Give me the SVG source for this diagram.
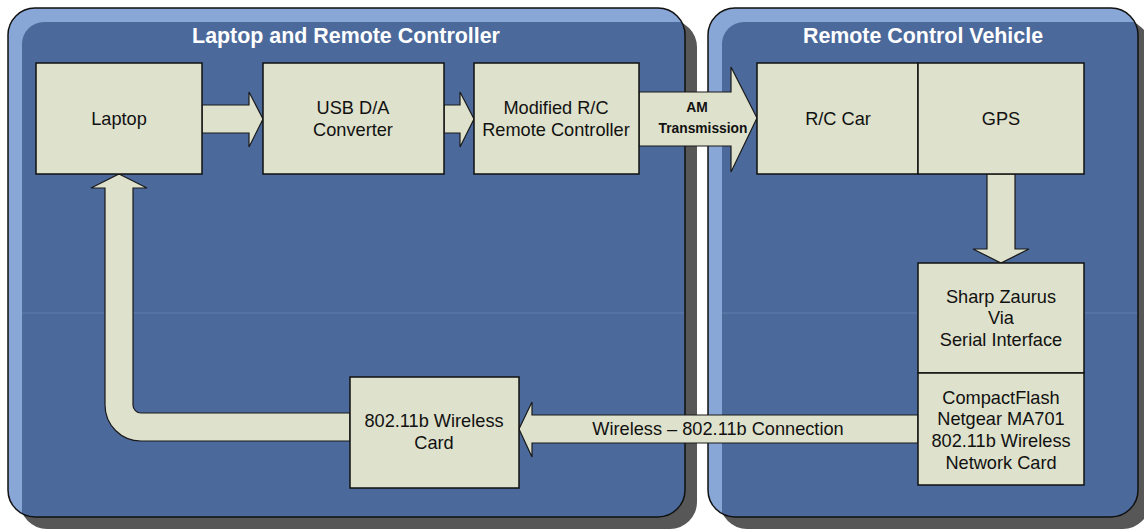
<svg xmlns="http://www.w3.org/2000/svg" width="1144" height="531" viewBox="0 0 1144 531">
  <style>
    .shadow { fill: #575757; }
    .outer { fill: #88a7d7; }
    .inner { fill: #4b6a9b; }
    .edge { fill: none; stroke: #111; stroke-width: 1.5; }
    .box { fill: #dee1cb; stroke: #111; stroke-width: 1.5; }
    .arrow { fill: #dee1cb; stroke: #1a1a1a; stroke-width: 1.2; stroke-linejoin: miter; }
    .title { font-family: "Liberation Sans", Arial, sans-serif; font-weight: bold; font-size: 21.4px; fill: #ffffff; text-anchor: middle; }
    .label { font-family: "Liberation Sans", Arial, sans-serif; font-size: 18.2px; fill: #111; text-anchor: middle; }
    .bold { font-family: "Liberation Sans", Arial, sans-serif; font-weight: bold; font-size: 13.8px; fill: #111; text-anchor: middle; }
  </style>
  <defs>
    <clipPath id="clipLeft"><rect x="8" y="8" width="677" height="509" rx="27" ry="27"/></clipPath>
    <clipPath id="clipRight"><rect x="708" y="8" width="430" height="509" rx="27" ry="27"/></clipPath>
  </defs>

  <rect width="1144" height="531" fill="#ffffff"/>

  <!-- Left panel: laptop side -->
  <g id="panel-laptop">
    <rect class="shadow" x="20" y="20" width="677" height="509" rx="27" ry="27"/>
    <rect class="outer" x="8" y="8" width="677" height="509" rx="27" ry="27"/>
    <rect class="inner" x="22" y="22" width="700" height="540" rx="22" ry="22" clip-path="url(#clipLeft)"/>
    <line x1="22" y1="313" x2="685" y2="313" stroke="#8aa4cc" stroke-opacity="0.35" stroke-width="1"/>
    <rect class="edge" x="8" y="8" width="677" height="509" rx="27" ry="27"/>
    <text class="title" x="346" y="43">Laptop and Remote Controller</text>
  </g>

  <!-- Right panel: vehicle side -->
  <g id="panel-vehicle">
    <rect class="shadow" x="720" y="20" width="430" height="509" rx="27" ry="27"/>
    <rect class="outer" x="708" y="8" width="430" height="509" rx="27" ry="27"/>
    <rect class="inner" x="722" y="22" width="450" height="540" rx="22" ry="22" clip-path="url(#clipRight)"/>
    <line x1="722" y1="313" x2="1138" y2="313" stroke="#8aa4cc" stroke-opacity="0.35" stroke-width="1"/>
    <rect class="edge" x="708" y="8" width="430" height="509" rx="27" ry="27"/>
    <text class="title" x="923" y="43">Remote Control Vehicle</text>
  </g>

  <!-- Connectors -->
  <g id="connectors">
    <path class="arrow" d="M202,105 L249,105 L249,92 L263,119 L249,147 L249,133 L202,133 Z"/>
    <path class="arrow" d="M444,105 L460,105 L460,92 L474,119 L460,147 L460,133 L444,133 Z"/>
    <path class="arrow" d="M639,92 L731,92 L731,67 L757,118 L731,172 L731,146 L639,146 Z"/>
    <text class="bold" x="697" y="112">AM</text>
    <text class="bold" x="703" y="133">Transmission</text>
    <path class="arrow" d="M987,174 L1015,174 L1015,249 L1029,249 L1001,263 L973,249 L987,249 Z"/>
    <path class="arrow" d="M918,415 L532,415 L532,402 L519,429 L532,457 L532,443 L918,443 Z"/>
    <text class="label" x="718" y="435">Wireless – 802.11b Connection</text>
    <path class="arrow" d="M119,174 L147,188 L133,188 L133,405 A8,8 0 0 0 141,413 L350,413 L350,441 L141,441 A36,36 0 0 1 105,405 L105,188 L91,188 Z"/>
  </g>

  <!-- Nodes -->
  <g id="laptop">
    <rect class="box" x="36" y="63" width="166" height="111"/>
    <text class="label" x="119" y="125">Laptop</text>
  </g>
  <g id="usb-da">
    <rect class="box" x="263" y="63" width="181" height="111"/>
    <text class="label" x="353" y="114">USB D/A</text>
    <text class="label" x="353" y="136">Converter</text>
  </g>
  <g id="rc-controller">
    <rect class="box" x="474" y="63" width="165" height="111"/>
    <text class="label" x="556" y="114">Modified R/C</text>
    <text class="label" x="556" y="136">Remote Controller</text>
  </g>
  <g id="rc-car">
    <rect class="box" x="757" y="63" width="161" height="111"/>
    <text class="label" x="838" y="125">R/C Car</text>
  </g>
  <g id="gps">
    <rect class="box" x="918" y="63" width="166" height="111"/>
    <text class="label" x="1001" y="125">GPS</text>
  </g>
  <g id="zaurus">
    <rect class="box" x="918" y="263" width="166" height="110"/>
    <text class="label" x="1001" y="303">Sharp Zaurus</text>
    <text class="label" x="1001" y="324">Via</text>
    <text class="label" x="1001" y="346">Serial Interface</text>
  </g>
  <g id="cf-card">
    <rect class="box" x="918" y="373" width="166" height="112"/>
    <text class="label" x="1001" y="404">CompactFlash</text>
    <text class="label" x="1001" y="425">Netgear MA701</text>
    <text class="label" x="1001" y="447">802.11b Wireless</text>
    <text class="label" x="1001" y="469">Network Card</text>
  </g>
  <g id="wireless-card">
    <rect class="box" x="350" y="377" width="169" height="111"/>
    <text class="label" x="434" y="427">802.11b Wireless</text>
    <text class="label" x="434" y="449">Card</text>
  </g>
</svg>
